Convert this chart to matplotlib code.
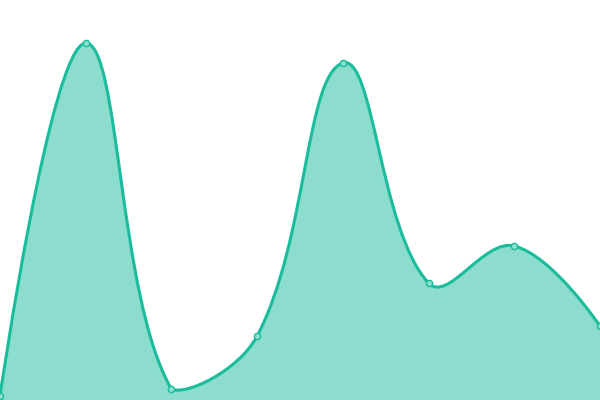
import matplotlib
matplotlib.use("Agg")
import matplotlib.pyplot as plt
import numpy as np
from matplotlib.path import Path
from matplotlib.patches import PathPatch

categories = ["A", "B", "C", "D", "E", "F", "G", "H"]
values = [4, 357, 11, 64, 337, 117, 154, 74]

LINE = "#1abc9c"
FILL = "#1abc9c"


def smooth_path(disp, tension=0.4):
    # spline through the points in display space,
    # control points kept inside the bounding box of the points
    lo, hi = disp.min(axis=0), disp.max(axis=0)
    verts = [disp[0]]
    codes = [Path.MOVETO]
    n = len(disp)
    cp0 = disp[0]
    for i in range(1, n):
        p = disp[i]
        if i < n - 1:
            prev, nxt = disp[i - 1], disp[i + 1]
            v = nxt - prev
            l0 = np.hypot(*(p - prev))
            l1 = np.hypot(*(nxt - p))
            r = l1 / (l0 + l1)
            cp1 = np.clip(p - v * tension * (1 - r), lo, hi)
            next_cp0 = np.clip(p + v * tension * r, lo, hi)
        else:
            cp1 = p
            next_cp0 = p
        verts += [cp0, cp1, p]
        codes += [Path.CURVE4] * 3
        cp0 = next_cp0
    return np.array(verts), codes


fig = plt.figure(figsize=(6, 4), dpi=100)
ax = fig.add_axes([0, 0, 1, 1])
ax.set_xlim(0, len(categories) - 1)
ax.set_ylim(0, 400)
ax.axis("off")

x = np.arange(len(categories))
pts = np.column_stack([x, values]).astype(float)
disp = ax.transData.transform(pts)
verts_d, codes = smooth_path(disp)
verts = ax.transData.inverted().transform(verts_d)

line_path = Path(verts, codes)
area_verts = np.vstack([verts, [[x[-1], 0], [x[0], 0], verts[0]]])
area_codes = codes + [Path.LINETO, Path.LINETO, Path.CLOSEPOLY]
ax.add_patch(PathPatch(Path(area_verts, area_codes), facecolor=FILL, alpha=0.5,
                       edgecolor="none", zorder=1))
ax.add_patch(PathPatch(line_path, facecolor="none", edgecolor=LINE, lw=2.2,
                       zorder=2, clip_on=False))
ax.plot(x, values, "o", ms=4.5, mfc="#8ce0cf", mec=LINE, mew=1, zorder=3,
        clip_on=False)

fig.savefig("out.png", dpi=100)
